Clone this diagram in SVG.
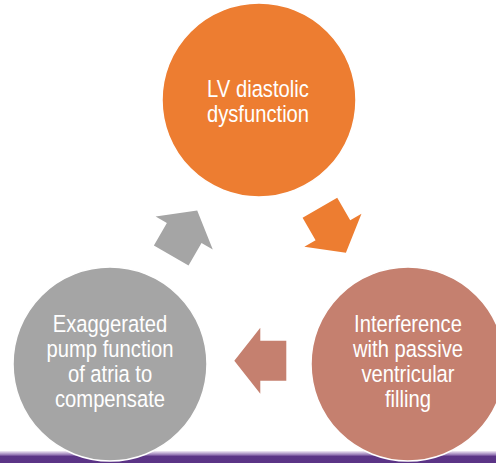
<svg xmlns="http://www.w3.org/2000/svg" width="496" height="463" viewBox="0 0 496 463">
  <defs>
    <style>
      .lbl { font-family: "Liberation Sans", Arial, sans-serif; font-size: 23.5px; fill: #FFFFFF; text-anchor: middle; }
      .node circle { stroke: #FFFFFF; stroke-width: 1.5; }
    </style>
    <linearGradient id="band" x1="0" y1="0" x2="0" y2="1">
      <stop offset="0" stop-color="#F3ECF7"/>
      <stop offset="0.3" stop-color="#9A7DB8"/>
      <stop offset="0.45" stop-color="#5C3587"/>
      <stop offset="1" stop-color="#5B3486"/>
    </linearGradient>
    <path id="arrow" d="M-26,-20 L0,-20 L0,-33 L26,0 L0,33 L0,20 L-26,20 Z"/>
  </defs>
  <rect x="0" y="0" width="496" height="463" fill="#FFFFFF"/>
  <rect x="0" y="451" width="496" height="12" fill="url(#band)"/>

  <g id="connectors">
    <use href="#arrow" fill="#ED7D31" transform="translate(332.9,230.2) rotate(60)"/>
    <use href="#arrow" fill="#C5806F" transform="translate(260.3,360.7) rotate(180)"/>
    <use href="#arrow" fill="#A5A5A5" transform="translate(184.2,232.9) rotate(-60)"/>
  </g>

  <g id="node-lv" class="node">
    <circle cx="259" cy="100" r="97" fill="#ED7D31"/>
    <g transform="translate(258,0) scale(0.86,1)">
      <text class="lbl" x="0" y="97">LV diastolic</text>
      <text class="lbl" x="0" y="122">dysfunction</text>
    </g>
  </g>

  <g id="node-interference" class="node">
    <circle cx="408" cy="364" r="97" fill="#C5806F"/>
    <g transform="translate(408,0) scale(0.86,1)">
      <text class="lbl" x="0" y="332">Interference</text>
      <text class="lbl" x="0" y="357">with passive</text>
      <text class="lbl" x="0" y="382">ventricular</text>
      <text class="lbl" x="0" y="407">filling</text>
    </g>
  </g>

  <g id="node-exaggerated" class="node">
    <circle cx="110" cy="364" r="97" fill="#A5A5A5"/>
    <g transform="translate(110,0) scale(0.86,1)">
      <text class="lbl" x="0" y="332">Exaggerated</text>
      <text class="lbl" x="0" y="357">pump function</text>
      <text class="lbl" x="0" y="382">of atria to</text>
      <text class="lbl" x="0" y="407">compensate</text>
    </g>
  </g>
</svg>
